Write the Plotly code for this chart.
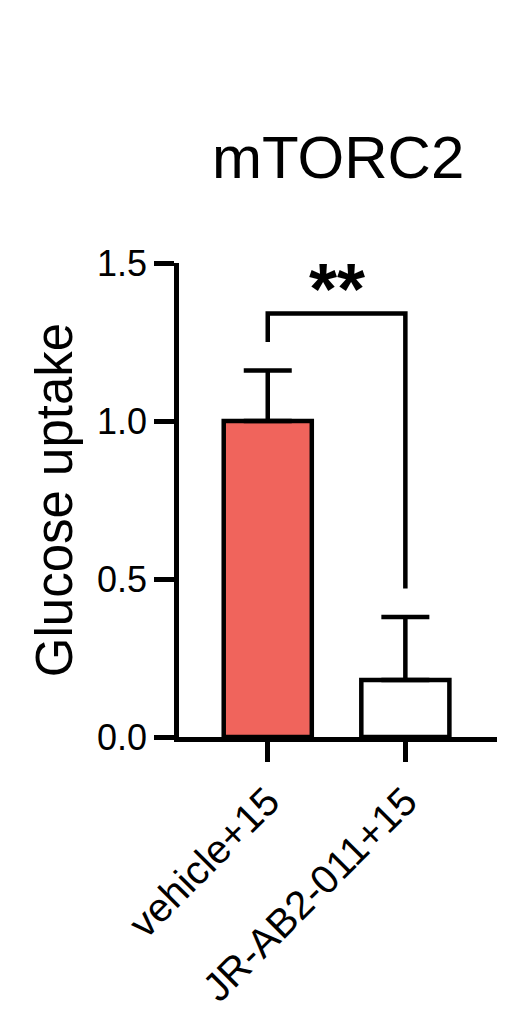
import plotly.graph_objects as go

# data
groups = ["vehicle+15", "JR-AB2-011+15"]
means = [1.0, 0.18]
sd_up = [0.16, 0.20]
bar_colors = ["#F0645C", "#FFFFFF"]

# significance bracket (left end, top, right end) and label
bracket_left = 1.25
bracket_top = 1.34
bracket_right = 0.47
sig_label = "**"

y_ticks = [0, 0.5, 1.0, 1.5]

FONT = "Arial, Liberation Sans, Helvetica, sans-serif"
LW = 4.5

fig = go.Figure()
fig.add_trace(go.Bar(
    x=[0, 1],
    y=means,
    width=0.64,
    marker=dict(color=bar_colors, line=dict(color="black", width=LW)),
    error_y=dict(type="data", array=sd_up, arrayminus=[0, 0], symmetric=False,
                 color="black", thickness=LW, width=24),
    hoverinfo="skip",
))

# bracket for the comparison
fig.add_trace(go.Scatter(
    x=[0, 0, 1, 1],
    y=[bracket_left, bracket_top, bracket_top, bracket_right],
    mode="lines",
    line=dict(color="black", width=LW),
    hoverinfo="skip",
))

fig.add_annotation(x=0.5, y=bracket_top, xref="x", yref="y", text="<b>" + sig_label + "</b>",
                   showarrow=False, yanchor="bottom", yshift=-17,
                   font=dict(size=72, color="black", family=FONT))

fig.add_annotation(x=0.5, y=1.222, xref="paper", yref="paper", text="mTORC2",
                   showarrow=False, yanchor="middle",
                   font=dict(size=60, color="black", family=FONT))

# page has an 8px body margin, so the figure is drawn 8px smaller
fig.update_layout(
    width=500, height=1012,
    margin=dict(l=171, r=11, t=255, b=273),
    paper_bgcolor="white", plot_bgcolor="white",
    showlegend=False,
    font=dict(family=FONT, color="black"),
    xaxis=dict(
        range=[-0.645, 1.666],
        tickmode="array", tickvals=[0, 1], ticktext=groups,
        tickangle=-45, ticks="outside", ticklen=20, tickwidth=LW, tickcolor="black",
        tickfont=dict(size=40, family=FONT, color="black"),
        showline=True, linecolor="black", linewidth=LW,
        showgrid=False, zeroline=False,
    ),
    yaxis=dict(
        range=[0, 1.5],
        tickmode="array", tickvals=y_ticks, tickformat=".1f",
        ticks="outside", ticklen=20, tickwidth=LW, tickcolor="black",
        tickfont=dict(size=36, family=FONT, color="black"),
        showline=True, linecolor="black", linewidth=LW,
        showgrid=False, zeroline=False,
        title=dict(text="Glucose uptake", font=dict(size=51, family=FONT, color="black"),
                   standoff=10),
    ),
)

fig.write_html("out.html")
